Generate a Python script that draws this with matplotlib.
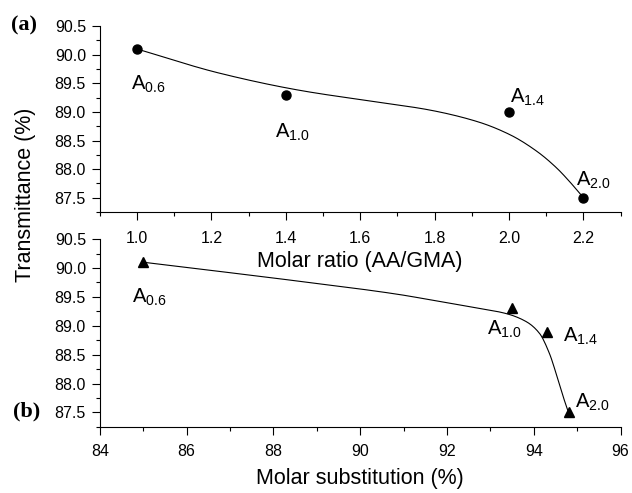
import numpy as np
import matplotlib
matplotlib.use("Agg")
import matplotlib.pyplot as plt
from matplotlib.ticker import MultipleLocator, FormatStrFormatter

plt.rcParams['font.family'] = ['Liberation Sans', 'DejaVu Sans']
plt.rcParams['mathtext.fontset'] = 'custom'
plt.rcParams['mathtext.rm'] = 'Liberation Sans'

# sample names
names = ["0.6", "1.0", "1.4", "2.0"]

# (a) transmittance vs molar ratio
ratio = [1.0, 1.4, 2.0, 2.2]
trans_a = [90.1, 89.3, 89.0, 87.5]
# fitted curve
curve_a_x = [1.0, 1.22, 1.435, 1.648, 1.781, 1.915, 2.003, 2.075, 2.128, 2.163, 2.2]
curve_a_y = [90.1, 89.68, 89.38, 89.17, 89.04, 88.83, 88.60, 88.31, 88.02, 87.78, 87.5]
# label anchors (left edge, vertical centre)
lab_a_x = [0.984, 1.37, 2.003, 2.181]
lab_a_y = [89.48, 88.64, 89.25, 87.81]

# (b) transmittance vs molar substitution
subst = [85.0, 93.5, 94.3, 94.8]
trans_b = [90.1, 89.3, 88.9, 87.5]
curve_b_x = [85.0, 88.6, 90.91, 91.83, 92.6, 93.37, 93.83, 94.13, 94.36, 94.56, 94.73, 94.8]
curve_b_y = [90.1, 89.77, 89.54, 89.42, 89.32, 89.21, 89.07, 88.87, 88.52, 88.06, 87.65, 87.5]
lab_b_x = [84.73, 92.92, 94.67, 94.95]
lab_b_y = [89.50, 88.93, 88.81, 87.67]


def pchip(x, y, n=300):
    # monotone cubic smoothing between the read-off curve points
    x = np.asarray(x, float)
    y = np.asarray(y, float)
    h = np.diff(x)
    d = np.diff(y) / h
    m = np.zeros_like(x)
    for k in range(1, len(x) - 1):
        if d[k - 1] * d[k] > 0:
            w1 = 2 * h[k] + h[k - 1]
            w2 = h[k] + 2 * h[k - 1]
            m[k] = (w1 + w2) / (w1 / d[k - 1] + w2 / d[k])
    m[0] = d[0]
    m[-1] = d[-1]
    xs = np.linspace(x[0], x[-1], n)
    i = np.clip(np.searchsorted(x, xs) - 1, 0, len(h) - 1)
    t = (xs - x[i]) / h[i]
    h00 = 2 * t**3 - 3 * t**2 + 1
    h10 = t**3 - 2 * t**2 + t
    h01 = -2 * t**3 + 3 * t**2
    h11 = t**3 - t**2
    ys = h00 * y[i] + h10 * h[i] * m[i] + h01 * y[i + 1] + h11 * h[i] * m[i + 1]
    return xs, ys


fig = plt.figure(figsize=(6.32, 4.93), dpi=100)
ax1 = fig.add_axes([0.158, 0.570, 0.824, 0.377])
ax2 = fig.add_axes([0.158, 0.134, 0.824, 0.381])
ax2.patch.set_visible(False)


def style(ax, xpad):
    for s in ["top", "right"]:
        ax.spines[s].set_visible(False)
    ax.tick_params(which="major", direction="out", length=6, width=0.8, labelsize=11.5)
    ax.tick_params(which="minor", direction="out", length=3, width=0.8)
    ax.tick_params(axis="x", which="major", pad=xpad)
    ax.tick_params(axis="y", which="major", pad=4)
    ax.set_ylim(87.25, 90.5)
    ax.yaxis.set_major_locator(MultipleLocator(0.5))
    ax.yaxis.set_minor_locator(MultipleLocator(0.25))
    ax.yaxis.set_major_formatter(FormatStrFormatter("%.1f"))


# --- (a) ---
style(ax1, 8)
ax1.plot(*pchip(curve_a_x, curve_a_y), color="black", lw=0.8)
ax1.plot(ratio, trans_a, "o", color="black", ms=6.5)
for n, x, y in zip(names, lab_a_x, lab_a_y):
    ax1.text(x, y, r"$\mathregular{A_{%s}}$" % n, fontsize=14.5, va="center", ha="left")
ax1.set_xlim(0.9, 2.3)
ax1.set_xticks([1.0, 1.2, 1.4, 1.6, 1.8, 2.0, 2.2])
ax1.xaxis.set_minor_locator(MultipleLocator(0.1))
ax1.xaxis.set_major_formatter(FormatStrFormatter("%.1f"))
ax1.set_xlabel("Molar ratio (AA/GMA)", fontsize=15.5, labelpad=3)

# --- (b) ---
style(ax2, 6)
ax2.plot(*pchip(curve_b_x, curve_b_y), color="black", lw=0.8)
ax2.plot(subst, trans_b, "^", color="black", ms=7.5)
for n, x, y in zip(names, lab_b_x, lab_b_y):
    ax2.text(x, y, r"$\mathregular{A_{%s}}$" % n, fontsize=14.5, va="center", ha="left")
ax2.set_xlim(84, 96)
ax2.xaxis.set_major_locator(MultipleLocator(2))
ax2.xaxis.set_minor_locator(MultipleLocator(1))
ax2.set_xlabel("Molar substitution (%)", fontsize=15.5, labelpad=7)

fig.text(0.04, 0.604, "Transmittance (%)", rotation=90, fontsize=15.5, va="center", ha="center")
fig.text(0.018, 0.949, "(a)", family="Liberation Serif", fontweight="bold", fontsize=16, va="center")
fig.text(0.02, 0.166, "(b)", family="Liberation Serif", fontweight="bold", fontsize=16, va="center")

fig.savefig("out.png", dpi=100)
